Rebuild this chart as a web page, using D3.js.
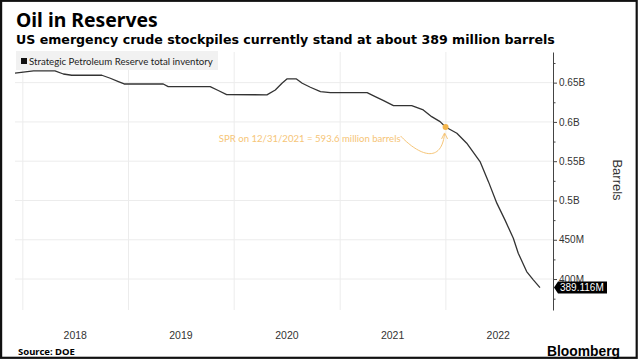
<!DOCTYPE html>
<html>
<head>
<meta charset="utf-8">
<script src="https://cdn.jsdelivr.net/npm/d3@7"></script>
<style>
  body { margin: 0; background: #fff; }
  svg { display: block; }
</style>
</head>
<body>
<svg id="chart" width="640" height="361"></svg>
<script>
// ---- data ----
const dates = [
  "2017-12-05", "2018-02-07", "2018-04-22", "2018-05-21", "2018-06-19", "2018-10-01",
  "2018-10-30", "2018-11-27", "2018-12-17", "2019-05-01", "2019-05-18", "2019-10-10",
  "2019-11-07", "2019-12-06", "2020-04-23", "2020-05-22", "2020-06-14", "2020-07-01",
  "2020-08-03", "2020-08-23", "2020-09-20", "2020-10-25", "2020-11-28", "2021-04-04",
  "2021-05-02", "2021-05-31", "2021-07-04", "2021-09-05", "2021-10-15", "2021-11-13",
  "2021-12-12", "2021-12-31", "2022-02-08", "2022-03-14", "2022-04-29", "2022-05-28",
  "2022-06-26", "2022-07-24", "2022-08-22", "2022-09-08", "2022-10-07", "2022-10-30",
  "2022-11-22"
];
// million barrels
const inventory = [
  662, 665, 665, 661, 659.4, 659.4,
  655.6, 651.3, 648.3, 648.3, 645, 645,
  640, 634.7, 634.5, 640.7, 649.2, 654.7,
  654.7, 649.2, 644.1, 638.5, 637.3, 637.3,
  632.2, 627.1, 620.7, 620.7, 615.3, 606.7,
  600.4, 593.6, 585.6, 572.9, 549.5, 524,
  496.6, 475.3, 452, 432.9, 409.5, 399,
  389.116
];

const years = [2018, 2019, 2020, 2021, 2022];
const yTicks = [400, 450, 500, 550, 600, 650];
const yTickLabels = ["400M", "450M", "0.5B", "0.55B", "0.6B", "0.65B"];
const yMinorTicks = [375, 425, 475, 525, 575, 625, 675];

const noteDate = "2021-12-31";
const noteValue = 593.6;
const noteText = "SPR on 12/31/2021 = 593.6 million barrels";
const lastLabel = "389.116M";

const title = "Oil in Reserves";
const subtitle = "US emergency crude stockpiles currently stand at about 389 million barrels";
const legendLabel = "Strategic Petroleum Reserve total inventory";

// ---- setup ----
const parse = d3.timeParse("%Y-%m-%d");
const series = dates.map((d, i) => ({ date: parse(d), value: inventory[i] }));

const svg = d3.select("#chart");
const plot = { left: 15, right: 553, top: 52, bottom: 310 };

const x = d3.scaleTime()
  .domain([parse("2017-12-05"), parse("2023-01-06")])
  .range([plot.left, plot.right]);

const y = d3.scaleLinear()
  .domain([360.6, 689])
  .range([plot.bottom, plot.top]);

const sans = "'Liberation Sans', Arial, sans-serif";
const narrow = "Lato, 'Liberation Sans', Arial, sans-serif";
const heavy = "'Noto Sans', 'DejaVu Sans', sans-serif";
const vera = "'DejaVu Sans', Verdana, sans-serif";

// shrink a text's font size so it spans the given width
function fitWidth(sel, width) {
  const fs = parseFloat(sel.style("font-size"));
  const w = sel.node().getComputedTextLength();
  sel.style("font-size", (fs * width / w).toFixed(2) + "px");
}

// frame
svg.append("rect")
  .attr("x", 1.1).attr("y", 0.8)
  .attr("width", 635.6).attr("height", 357)
  .attr("fill", "#fff")
  .attr("stroke", "#111")
  .attr("stroke-width", 2.2);

// ---- titles ----
svg.append("text")
  .attr("x", 16).attr("y", 26.5)
  .style("font-family", heavy).style("font-weight", "bold")
  .style("font-size", "17px").attr("fill", "#000")
  .text(title)
  .call(fitWidth, 142);

svg.append("text")
  .attr("x", 16).attr("y", 44)
  .style("font-family", vera).style("font-weight", "bold")
  .style("font-size", "13px").attr("fill", "#000")
  .text(subtitle)
  .call(fitWidth, 539);

// ---- grid ----
const grid = svg.append("g");

grid.selectAll(".hgrid")
  .data(yTicks)
  .join("line")
  .attr("x1", plot.left).attr("x2", plot.right)
  .attr("y1", d => y(d)).attr("y2", d => y(d))
  .attr("stroke", "#ececec").attr("stroke-width", 1);

grid.selectAll(".vgrid")
  .data(years)
  .join("line")
  .attr("x1", d => x(new Date(d, 0, 1))).attr("x2", d => x(new Date(d, 0, 1)))
  .attr("y1", plot.top).attr("y2", plot.bottom)
  .attr("stroke", "#ececec").attr("stroke-width", 1);

// ---- legend ----
svg.append("rect")
  .attr("x", 16).attr("y", 51)
  .attr("width", 202).attr("height", 19)
  .attr("fill", "#f1f1f1");

svg.append("rect")
  .attr("x", 21).attr("y", 58)
  .attr("width", 6).attr("height", 6)
  .attr("fill", "#111");

svg.append("text")
  .attr("x", 29).attr("y", 64.5)
  .style("font-family", narrow).style("font-size", "10px")
  .attr("fill", "#222")
  .text(legendLabel)
  .call(fitWidth, 184);

// ---- line ----
const line = d3.line()
  .x(d => x(d.date))
  .y(d => y(d.value));

svg.append("path")
  .datum(series)
  .attr("fill", "none")
  .attr("stroke", "#333")
  .attr("stroke-width", 1.3)
  .attr("stroke-linejoin", "round")
  .attr("d", line);

// ---- annotation ----
const nx = x(parse(noteDate));
const ny = y(noteValue);
const noteColor = "#f6c577";

svg.append("text")
  .attr("x", nx - 45).attr("y", ny + 15.5)
  .attr("text-anchor", "end")
  .style("font-family", narrow).style("font-size", "11px")
  .attr("fill", noteColor)
  .text(noteText)
  .call(fitWidth, 182);

svg.append("path")
  .attr("d", `M ${nx - 45} ${ny + 9} C ${nx - 30} ${ny + 25}, ${nx - 5} ${ny + 40}, ${nx - 1} ${ny + 7}`)
  .attr("fill", "none")
  .attr("stroke", noteColor)
  .attr("stroke-width", 1);

svg.append("path")
  .attr("d", `M ${nx - 4} ${ny + 12} L ${nx - 1} ${ny + 6} L ${nx + 2} ${ny + 12}`)
  .attr("fill", "none")
  .attr("stroke", noteColor)
  .attr("stroke-width", 1);

svg.append("circle")
  .attr("cx", nx).attr("cy", ny)
  .attr("r", 3)
  .attr("fill", "#f3b54c");

// ---- x axis labels (mid-year) ----
svg.selectAll(".year")
  .data(years)
  .join("text")
  .attr("x", d => x(new Date(d, 6, 1)))
  .attr("y", 339)
  .attr("text-anchor", "middle")
  .style("font-family", sans).style("font-size", "10.5px")
  .attr("fill", "#333")
  .text(d => d);

// ---- y axis (right) ----
const yAxis = d3.axisRight(y)
  .tickValues(yTicks)
  .tickFormat((d, i) => yTickLabels[i])
  .tickSizeInner(4)
  .tickSizeOuter(0)
  .tickPadding(2);

const gy = svg.append("g")
  .attr("transform", `translate(${plot.right},0)`)
  .call(yAxis);

gy.select(".domain").attr("stroke", "#444");
gy.selectAll(".tick line").attr("stroke", "#444");
gy.selectAll(".tick text")
  .style("font-family", sans).style("font-size", "10px")
  .attr("fill", "#333");

const gyMinor = svg.append("g")
  .attr("transform", `translate(${plot.right},0)`)
  .call(d3.axisRight(y).tickValues(yMinorTicks).tickFormat("").tickSizeInner(2.5).tickSizeOuter(0));
gyMinor.select(".domain").remove();
gyMinor.selectAll(".tick line").attr("stroke", "#444");

svg.append("text")
  .attr("transform", `translate(613,180) rotate(90)`)
  .attr("text-anchor", "middle")
  .style("font-family", sans).style("font-size", "13px")
  .attr("fill", "#333")
  .text("Barrels");

// last value tag
const last = series[series.length - 1];
const ly = y(last.value);
svg.append("path")
  .attr("d", `M ${plot.right + 1} ${ly} L ${plot.right + 5} ${ly - 6} L ${plot.right + 54} ${ly - 6} L ${plot.right + 54} ${ly + 6} L ${plot.right + 5} ${ly + 6} Z`)
  .attr("fill", "#000");

svg.append("text")
  .attr("x", plot.right + 7).attr("y", ly + 3.6)
  .style("font-family", sans).style("font-size", "10px")
  .attr("fill", "#fff")
  .text(lastLabel);

// ---- footer ----
svg.append("text")
  .attr("x", 18).attr("y", 355)
  .style("font-family", heavy).style("font-weight", "bold")
  .style("font-size", "9.5px").attr("fill", "#000")
  .text("Source: DOE");

svg.append("text")
  .attr("x", 547).attr("y", 356)
  .style("font-family", sans).style("font-weight", "bold")
  .style("font-size", "13px").attr("fill", "#000")
  .text("Bloomberg")
  .call(fitWidth, 73);
</script>
</body>
</html>
